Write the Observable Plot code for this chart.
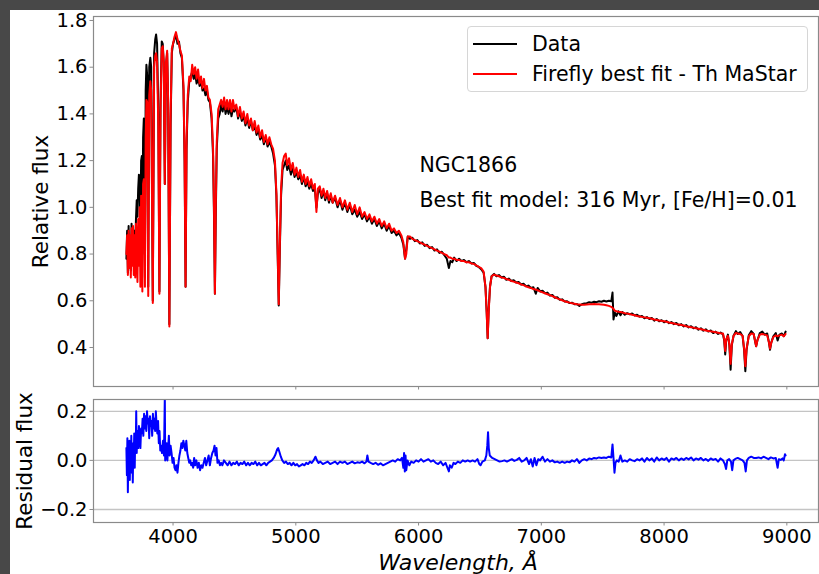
<!DOCTYPE html>
<html>
<head>
<meta charset="utf-8">
<script src="https://cdn.jsdelivr.net/npm/d3@7"></script>
<script src="https://cdn.jsdelivr.net/npm/@observablehq/plot@0.6"></script>
<style>
  html, body { margin: 0; padding: 0; }
  #page { position: relative; width: 819px; height: 574px; background: #484848; overflow: hidden; font-family: "DejaVu Sans", sans-serif; }
  #sheet { position: absolute; left: 10px; top: 10px; right: 0; bottom: 0; background: #fff; }
  #top { position: absolute; left: 0; top: 0; }
  #bot { position: absolute; left: 0; top: 390px; }
  #legend { position: absolute; left: 467px; top: 26px; width: 339px; height: 64px; border: 1px solid #d6d6d6; border-radius: 4px; background: #fff; }
  .row { position: absolute; left: 0; height: 24px; font-size: 20.5px; line-height: 24px; color: #000; white-space: nowrap; }
  .sw { position: absolute; left: 5px; top: 11px; width: 44px; height: 2px; }
  .lt { position: absolute; left: 64px; top: 0; }
</style>
</head>
<body>
<div id="page">
  <div id="sheet"></div>
  <div id="top"></div>
  <div id="bot"></div>
  <div id="legend"></div>
</div>
<script>
// ---- data ----
const legendLabels = ["Data", "Firefly best fit - Th MaStar"];
const legendColors = ["#000000", "#ff0000"];
const objectName = "NGC1866";
const fitText = "Best fit model: 316 Myr, [Fe/H]=0.01";
const xTicks = [4000, 5000, 6000, 7000, 8000, 9000];
const yTicksTop = [0.4, 0.6, 0.8, 1.0, 1.2, 1.4, 1.6, 1.8];
const yTicksRes = [-0.2, 0.0, 0.2];

// observed spectrum [wavelength (Å), relative flux]
const observed = [[3620,0.78],[3626,0.90],[3632,0.72],[3638,0.92],[3644,0.76],[3650,0.87],[3656,0.73],[3662,0.93],[3668,0.78],[3674,0.89],[3680,0.75],[3686,0.90],[3692,0.84],[3698,0.95],[3704,1.03],[3710,0.96],[3716,1.08],[3722,1.14],[3728,1.10],[3734,0.90],[3740,1.20],[3746,1.22],[3750,0.80],[3756,1.30],[3762,1.38],[3766,1.30],[3771,0.70],[3777,1.50],[3783,1.61],[3790,1.56],[3798,0.66],[3806,1.60],[3815,1.64],[3822,1.60],[3835,0.60],[3846,1.66],[3855,1.72],[3862,1.74],[3870,1.70],[3880,1.40],[3889,0.64],[3898,1.45],[3908,1.71],[3916,1.70],[3924,1.62],[3933,1.10],[3942,1.60],[3952,1.66],[3960,1.45],[3970,0.50],[3980,1.35],[3990,1.66],[4000,1.70],[4012,1.72],[4024,1.74],[4036,1.70],[4048,1.71],[4060,1.66],[4072,1.64],[4085,1.50],[4094,1.20],[4102,0.66],[4110,1.25],[4120,1.45],[4132,1.54],[4144,1.56],[4156,1.58],[4168,1.55],[4180,1.57],[4192,1.53],[4204,1.56],[4216,1.52],[4228,1.54],[4240,1.50],[4252,1.51],[4264,1.48],[4276,1.50],[4288,1.46],[4300,1.45],[4314,1.38],[4326,1.22],[4334,0.95],[4341,0.63],[4348,0.96],[4356,1.25],[4368,1.38],[4380,1.40],[4392,1.44],[4404,1.41],[4416,1.45],[4428,1.40],[4440,1.43],[4452,1.40],[4464,1.43],[4476,1.39],[4488,1.42],[4500,1.41],[4515,1.43],[4530,1.38],[4545,1.41],[4560,1.37],[4575,1.39],[4590,1.35],[4605,1.38],[4620,1.34],[4635,1.37],[4650,1.33],[4665,1.35],[4680,1.31],[4695,1.33],[4710,1.29],[4725,1.31],[4740,1.27],[4755,1.30],[4770,1.26],[4785,1.28],[4800,1.26],[4815,1.23],[4830,1.18],[4842,1.05],[4852,0.80],[4861,0.58],[4870,0.82],[4880,1.05],[4892,1.16],[4905,1.18],[4918,1.20],[4930,1.16],[4945,1.18],[4960,1.14],[4975,1.17],[4990,1.13],[5005,1.15],[5020,1.12],[5035,1.14],[5050,1.10],[5065,1.13],[5080,1.09],[5095,1.11],[5110,1.08],[5125,1.10],[5140,1.07],[5155,1.08],[5168,1.00],[5180,1.06],[5195,1.08],[5210,1.04],[5225,1.07],[5240,1.03],[5255,1.06],[5270,1.02],[5285,1.05],[5300,1.02],[5320,1.04],[5340,1.00],[5360,1.03],[5380,0.99],[5400,1.02],[5420,0.98],[5440,1.01],[5460,0.97],[5480,0.99],[5500,0.96],[5520,0.98],[5540,0.95],[5560,0.97],[5580,0.94],[5600,0.96],[5620,0.93],[5640,0.95],[5660,0.92],[5680,0.94],[5700,0.91],[5720,0.93],[5740,0.90],[5760,0.92],[5780,0.89],[5800,0.90],[5820,0.88],[5840,0.89],[5860,0.87],[5876,0.84],[5890,0.78],[5900,0.82],[5912,0.875],[5930,0.865],[5950,0.87],[5970,0.855],[5990,0.86],[6010,0.845],[6030,0.85],[6050,0.835],[6070,0.84],[6090,0.825],[6110,0.83],[6130,0.815],[6150,0.82],[6170,0.805],[6190,0.81],[6210,0.795],[6230,0.78],[6247,0.74],[6260,0.77],[6275,0.765],[6290,0.785],[6310,0.77],[6330,0.78],[6350,0.77],[6370,0.775],[6390,0.765],[6410,0.77],[6430,0.76],[6450,0.762],[6470,0.75],[6490,0.745],[6510,0.735],[6530,0.72],[6545,0.66],[6555,0.55],[6563,0.44],[6571,0.56],[6582,0.66],[6595,0.705],[6615,0.715],[6635,0.705],[6655,0.71],[6675,0.70],[6695,0.703],[6715,0.69],[6735,0.695],[6755,0.685],[6775,0.688],[6795,0.678],[6815,0.68],[6835,0.67],[6855,0.673],[6875,0.662],[6895,0.665],[6915,0.655],[6935,0.658],[6955,0.63],[6970,0.655],[6990,0.64],[7010,0.643],[7030,0.632],[7050,0.635],[7070,0.622],[7090,0.625],[7110,0.613],[7130,0.615],[7150,0.604],[7170,0.606],[7190,0.597],[7210,0.598],[7230,0.59],[7250,0.592],[7270,0.585],[7290,0.586],[7310,0.578],[7330,0.585],[7350,0.588],[7370,0.59],[7390,0.594],[7410,0.592],[7430,0.596],[7450,0.594],[7470,0.598],[7490,0.596],[7510,0.60],[7530,0.597],[7550,0.60],[7570,0.598],[7580,0.635],[7588,0.52],[7598,0.55],[7612,0.535],[7628,0.555],[7645,0.538],[7660,0.552],[7680,0.54],[7700,0.547],[7720,0.542],[7740,0.546],[7760,0.537],[7780,0.54],[7800,0.532],[7820,0.535],[7840,0.525],[7860,0.53],[7880,0.522],[7900,0.526],[7920,0.515],[7940,0.522],[7960,0.512],[7980,0.517],[8000,0.508],[8020,0.514],[8040,0.504],[8060,0.509],[8080,0.50],[8100,0.505],[8120,0.495],[8140,0.50],[8160,0.49],[8180,0.496],[8200,0.486],[8220,0.491],[8240,0.482],[8260,0.487],[8280,0.476],[8300,0.482],[8320,0.472],[8340,0.478],[8360,0.468],[8380,0.473],[8400,0.462],[8420,0.468],[8440,0.458],[8460,0.464],[8480,0.456],[8490,0.43],[8498,0.37],[8506,0.43],[8520,0.455],[8532,0.41],[8542,0.305],[8552,0.41],[8566,0.45],[8585,0.47],[8600,0.458],[8620,0.466],[8640,0.448],[8652,0.39],[8662,0.298],[8672,0.39],[8690,0.452],[8710,0.47],[8730,0.458],[8742,0.425],[8750,0.405],[8760,0.43],[8780,0.462],[8800,0.468],[8820,0.455],[8840,0.46],[8855,0.42],[8863,0.39],[8873,0.42],[8890,0.448],[8910,0.462],[8925,0.43],[8940,0.455],[8960,0.46],[8975,0.448],[8990,0.468]];

// Firefly best-fit model [wavelength (Å), relative flux]
const bestFit = [[3620,0.80],[3626,0.88],[3632,0.71],[3638,0.90],[3644,0.74],[3650,0.88],[3656,0.70],[3662,0.91],[3668,0.75],[3674,0.92],[3680,0.71],[3686,0.88],[3692,0.70],[3698,0.93],[3704,0.84],[3710,0.68],[3716,0.95],[3722,0.75],[3728,1.00],[3734,0.66],[3740,1.05],[3746,0.98],[3750,0.64],[3756,1.10],[3762,1.12],[3766,1.05],[3771,0.66],[3777,1.30],[3783,1.46],[3790,1.45],[3798,0.62],[3806,1.48],[3815,1.54],[3822,1.50],[3835,0.59],[3846,1.60],[3855,1.65],[3862,1.66],[3870,1.62],[3880,1.35],[3889,0.63],[3898,1.42],[3908,1.68],[3916,1.69],[3924,1.62],[3933,1.10],[3942,1.62],[3952,1.67],[3960,1.46],[3970,0.49],[3980,1.38],[3990,1.68],[4000,1.70],[4012,1.73],[4024,1.75],[4036,1.72],[4048,1.70],[4060,1.67],[4072,1.65],[4085,1.52],[4094,1.22],[4102,0.66],[4110,1.28],[4120,1.48],[4132,1.56],[4144,1.54],[4156,1.61],[4168,1.57],[4180,1.60],[4192,1.55],[4204,1.59],[4216,1.53],[4228,1.56],[4240,1.51],[4252,1.55],[4264,1.50],[4276,1.52],[4288,1.47],[4300,1.46],[4314,1.40],[4326,1.25],[4334,0.98],[4341,0.63],[4348,1.00],[4356,1.28],[4368,1.42],[4380,1.44],[4392,1.46],[4404,1.43],[4416,1.47],[4428,1.42],[4440,1.46],[4452,1.42],[4464,1.46],[4476,1.41],[4488,1.46],[4500,1.42],[4515,1.44],[4530,1.39],[4545,1.43],[4560,1.38],[4575,1.41],[4590,1.36],[4605,1.40],[4620,1.35],[4635,1.38],[4650,1.33],[4665,1.37],[4680,1.32],[4695,1.35],[4710,1.30],[4725,1.33],[4740,1.28],[4755,1.31],[4770,1.27],[4785,1.30],[4800,1.27],[4815,1.25],[4830,1.20],[4842,1.06],[4852,0.82],[4861,0.585],[4870,0.84],[4880,1.08],[4892,1.19],[4905,1.22],[4918,1.23],[4930,1.18],[4945,1.21],[4960,1.16],[4975,1.19],[4990,1.14],[5005,1.17],[5020,1.13],[5035,1.16],[5050,1.11],[5065,1.14],[5080,1.10],[5095,1.13],[5110,1.09],[5125,1.12],[5140,1.08],[5155,1.10],[5168,0.98],[5180,1.08],[5195,1.09],[5210,1.05],[5225,1.08],[5240,1.04],[5255,1.07],[5270,1.03],[5285,1.06],[5300,1.02],[5320,1.05],[5340,1.01],[5360,1.04],[5380,1.00],[5400,1.03],[5420,0.99],[5440,1.02],[5460,0.98],[5480,1.01],[5500,0.97],[5520,1.00],[5540,0.96],[5560,0.98],[5580,0.95],[5600,0.97],[5620,0.94],[5640,0.96],[5660,0.93],[5680,0.95],[5700,0.92],[5720,0.94],[5740,0.91],[5760,0.93],[5780,0.90],[5800,0.91],[5820,0.89],[5840,0.90],[5860,0.88],[5876,0.85],[5890,0.78],[5900,0.80],[5912,0.875],[5930,0.875],[5950,0.865],[5970,0.86],[5990,0.855],[6010,0.85],[6030,0.845],[6050,0.84],[6070,0.835],[6090,0.83],[6110,0.825],[6130,0.82],[6150,0.815],[6170,0.81],[6190,0.805],[6210,0.80],[6230,0.795],[6247,0.785],[6260,0.785],[6275,0.78],[6290,0.78],[6310,0.775],[6330,0.775],[6350,0.77],[6370,0.77],[6390,0.765],[6410,0.765],[6430,0.76],[6450,0.758],[6470,0.752],[6490,0.745],[6510,0.74],[6530,0.725],[6545,0.66],[6555,0.55],[6563,0.44],[6571,0.55],[6582,0.66],[6595,0.705],[6615,0.712],[6635,0.708],[6655,0.705],[6675,0.70],[6695,0.698],[6715,0.693],[6735,0.69],[6755,0.685],[6775,0.682],[6795,0.678],[6815,0.675],[6835,0.67],[6855,0.667],[6875,0.662],[6895,0.658],[6915,0.655],[6935,0.65],[6955,0.648],[6970,0.645],[6990,0.64],[7010,0.636],[7030,0.632],[7050,0.628],[7070,0.624],[7090,0.62],[7110,0.615],[7130,0.61],[7150,0.606],[7170,0.602],[7190,0.598],[7210,0.595],[7230,0.592],[7250,0.589],[7270,0.587],[7290,0.585],[7310,0.584],[7330,0.583],[7350,0.583],[7370,0.584],[7390,0.585],[7410,0.585],[7430,0.586],[7450,0.585],[7470,0.585],[7490,0.584],[7510,0.583],[7530,0.581],[7550,0.578],[7570,0.574],[7580,0.57],[7588,0.565],[7598,0.558],[7612,0.555],[7628,0.553],[7645,0.552],[7660,0.55],[7680,0.547],[7700,0.545],[7720,0.543],[7740,0.54],[7760,0.538],[7780,0.535],[7800,0.533],[7820,0.531],[7840,0.529],[7860,0.527],[7880,0.525],[7900,0.523],[7920,0.52],[7940,0.518],[7960,0.516],[7980,0.514],[8000,0.512],[8020,0.51],[8040,0.507],[8060,0.505],[8080,0.503],[8100,0.50],[8120,0.498],[8140,0.496],[8160,0.494],[8180,0.491],[8200,0.489],[8220,0.487],[8240,0.485],[8260,0.482],[8280,0.48],[8300,0.478],[8320,0.476],[8340,0.473],[8360,0.471],[8380,0.469],[8400,0.467],[8420,0.465],[8440,0.463],[8460,0.461],[8480,0.46],[8490,0.435],[8498,0.385],[8506,0.435],[8520,0.45],[8532,0.415],[8542,0.33],[8552,0.415],[8566,0.45],[8585,0.462],[8600,0.46],[8620,0.458],[8640,0.45],[8652,0.395],[8662,0.32],[8672,0.395],[8690,0.448],[8710,0.46],[8730,0.458],[8742,0.425],[8750,0.405],[8760,0.43],[8780,0.455],[8800,0.458],[8820,0.455],[8840,0.452],[8855,0.42],[8863,0.395],[8873,0.42],[8890,0.445],[8910,0.452],[8925,0.448],[8940,0.452],[8960,0.455],[8975,0.448],[8990,0.458]];

// residual flux [wavelength (Å), residual]
const residuals = [[3620,0.05],[3624,-0.06],[3628,0.09],[3632,-0.13],[3636,0.04],[3640,-0.04],[3644,0.08],[3648,-0.08],[3652,0.06],[3656,-0.02],[3660,0.10],[3664,-0.05],[3668,0.07],[3672,-0.09],[3676,0.05],[3680,0.02],[3684,0.11],[3688,-0.03],[3692,0.10],[3696,0.04],[3700,0.20],[3704,0.03],[3710,0.12],[3716,0.05],[3722,0.14],[3728,0.09],[3734,0.05],[3740,0.13],[3746,0.11],[3752,0.17],[3758,0.10],[3764,0.19],[3770,0.13],[3776,0.18],[3782,0.12],[3788,0.20],[3794,0.15],[3800,0.17],[3806,0.09],[3812,0.18],[3818,0.14],[3824,0.16],[3830,0.10],[3836,0.19],[3842,0.13],[3848,0.17],[3854,0.12],[3860,0.20],[3866,0.14],[3872,0.11],[3878,0.16],[3884,0.07],[3890,0.12],[3896,0.04],[3902,0.06],[3910,0.03],[3918,0.08],[3926,0.02],[3933,0.26],[3936,0.0],[3942,0.02],[3948,0.07],[3954,0.00],[3960,0.05],[3966,0.10],[3972,0.02],[3980,0.06],[3988,0.03],[3996,-0.01],[4004,0.01],[4012,-0.03],[4020,-0.04],[4028,-0.02],[4036,-0.05],[4044,-0.01],[4052,0.02],[4060,0.04],[4068,0.07],[4076,0.05],[4084,0.08],[4092,0.06],[4100,0.04],[4108,0.08],[4116,0.03],[4124,0.01],[4132,-0.01],[4140,0.00],[4148,-0.02],[4156,-0.01],[4164,-0.03],[4172,0.01],[4180,-0.02],[4190,0.00],[4200,-0.03],[4210,-0.01],[4220,-0.04],[4230,-0.02],[4240,-0.03],[4250,-0.01],[4260,0.01],[4270,-0.02],[4280,0.00],[4290,0.02],[4300,-0.02],[4310,0.01],[4320,0.03],[4330,0.04],[4338,0.06],[4346,0.02],[4354,0.05],[4362,-0.01],[4372,0.00],[4382,-0.02],[4392,-0.01],[4402,-0.02],[4415,0.00],[4430,-0.01],[4445,-0.02],[4460,-0.005],[4475,-0.02],[4490,-0.01],[4505,-0.015],[4520,-0.005],[4535,-0.02],[4550,-0.01],[4565,-0.015],[4580,-0.005],[4595,-0.02],[4610,-0.01],[4625,-0.02],[4640,-0.01],[4655,-0.015],[4670,-0.005],[4685,-0.02],[4700,-0.01],[4715,-0.02],[4730,-0.015],[4745,-0.01],[4760,-0.02],[4775,-0.01],[4790,-0.005],[4805,0.00],[4820,0.01],[4835,0.025],[4848,0.045],[4856,0.05],[4866,0.035],[4878,0.015],[4890,0.0],[4905,-0.01],[4920,-0.005],[4935,-0.015],[4950,-0.01],[4965,-0.02],[4980,-0.01],[4995,-0.02],[5010,-0.015],[5025,-0.025],[5040,-0.02],[5055,-0.015],[5070,-0.02],[5085,-0.01],[5100,-0.015],[5115,-0.005],[5130,-0.01],[5145,0.00],[5160,0.015],[5172,0.0],[5185,-0.01],[5200,-0.005],[5220,-0.015],[5240,-0.01],[5260,-0.005],[5280,-0.015],[5300,-0.01],[5320,-0.005],[5340,-0.015],[5360,-0.005],[5380,-0.01],[5400,-0.005],[5420,-0.015],[5440,-0.01],[5460,-0.005],[5480,-0.012],[5500,-0.008],[5520,-0.01],[5540,-0.005],[5560,-0.012],[5575,-0.005],[5583,0.02],[5592,-0.005],[5610,-0.01],[5630,-0.015],[5650,-0.01],[5670,-0.018],[5690,-0.012],[5710,-0.02],[5730,-0.015],[5750,-0.01],[5770,-0.005],[5790,0.0],[5810,-0.005],[5830,0.005],[5850,0.0],[5865,0.01],[5876,-0.03],[5882,0.03],[5888,-0.045],[5894,0.02],[5900,-0.04],[5910,0.0],[5925,-0.02],[5940,-0.005],[5960,-0.01],[5980,0.0],[6000,-0.005],[6020,0.005],[6040,-0.005],[6060,0.0],[6080,0.005],[6100,-0.005],[6120,0.0],[6140,-0.01],[6160,-0.015],[6180,-0.005],[6200,-0.02],[6220,-0.01],[6235,-0.03],[6247,-0.045],[6255,-0.02],[6270,-0.03],[6285,-0.01],[6300,-0.015],[6320,-0.005],[6340,-0.01],[6360,0.0],[6380,-0.005],[6400,0.0],[6420,-0.005],[6440,0.0],[6460,-0.005],[6480,0.005],[6495,-0.015],[6505,-0.02],[6520,-0.005],[6540,0.0],[6552,0.02],[6560,0.06],[6566,0.115],[6572,0.05],[6580,0.02],[6600,0.01],[6620,0.005],[6640,0.0],[6660,-0.005],[6680,-0.003],[6700,0.0],[6720,-0.005],[6740,0.0],[6760,0.005],[6780,-0.002],[6800,0.002],[6820,0.01],[6840,-0.005],[6860,0.0],[6880,0.01],[6900,-0.015],[6915,0.005],[6930,-0.025],[6945,0.01],[6960,-0.02],[6975,0.005],[6990,0.0],[7010,0.015],[7030,-0.005],[7050,0.005],[7070,-0.005],[7090,0.0],[7110,-0.008],[7130,-0.005],[7150,-0.01],[7170,-0.005],[7190,-0.01],[7210,-0.005],[7230,-0.008],[7250,0.0],[7270,-0.005],[7290,0.005],[7310,-0.01],[7330,0.0],[7350,0.005],[7370,0.0],[7390,0.008],[7410,0.005],[7430,0.01],[7450,0.008],[7470,0.012],[7490,0.01],[7510,0.012],[7530,0.01],[7550,0.015],[7570,0.012],[7580,0.065],[7588,0.01],[7596,-0.05],[7604,-0.01],[7615,0.0],[7630,-0.005],[7645,0.02],[7660,-0.005],[7680,0.0],[7700,-0.005],[7720,0.005],[7740,0.0],[7760,-0.003],[7780,0.005],[7800,0.0],[7820,0.008],[7840,-0.005],[7860,0.01],[7880,0.0],[7900,0.008],[7920,-0.005],[7940,0.012],[7960,0.0],[7980,0.008],[8000,0.002],[8020,0.01],[8040,-0.005],[8060,0.008],[8080,0.003],[8100,0.01],[8120,0.0],[8140,0.008],[8160,0.002],[8180,0.01],[8200,0.004],[8220,0.012],[8240,0.0],[8260,0.008],[8280,0.003],[8300,0.01],[8320,0.0],[8340,0.006],[8360,-0.002],[8380,0.008],[8400,0.002],[8420,0.006],[8440,-0.005],[8460,0.008],[8480,0.0],[8495,-0.015],[8505,-0.035],[8515,0.0],[8530,0.005],[8545,-0.005],[8555,-0.04],[8565,0.0],[8580,0.006],[8600,0.01],[8620,0.005],[8640,0.0],[8655,-0.01],[8665,-0.045],[8675,0.0],[8690,0.01],[8710,0.015],[8730,0.01],[8750,0.01],[8770,0.012],[8790,0.008],[8810,0.015],[8830,0.01],[8850,0.005],[8870,0.012],[8890,0.008],[8910,0.01],[8925,-0.03],[8935,0.005],[8950,0.002],[8965,0.008],[8975,0.0],[8985,0.025],[8990,0.02]];

// ---- drawing ----
const xDomain = [3352, 9258];
const FONT = "DejaVu Sans";
const frameColor = "#8a8a8a";
const fmt1 = d => (d < 0 ? "\u2212" : "") + Math.abs(d).toFixed(1);

const topPlot = Plot.plot({
  width: 819, height: 390,
  marginLeft: 93, marginRight: 1, marginTop: 16, marginBottom: 4,
  style: {background: "transparent", fontFamily: FONT, fontSize: "19.5px", color: "#000", overflow: "visible"},
  x: {domain: xDomain},
  y: {domain: [0.233, 1.817]},
  marks: [
    Plot.line(observed, {x: d => d[0], y: d => d[1], stroke: legendColors[0], strokeWidth: 2}),
    Plot.line(bestFit, {x: d => d[0], y: d => d[1], stroke: legendColors[1], strokeWidth: 2}),
    Plot.frame({stroke: frameColor, strokeWidth: 1.2}),
    Plot.axisX({ticks: xTicks, tickSize: 3.5, stroke: frameColor, tickFormat: () => "", label: null}),
    Plot.axisY({ticks: yTicksTop, tickSize: 3.5, tickPadding: 2.5, stroke: frameColor, fill: "#000", fontSize: 19.5, tickFormat: fmt1, label: null}),
    Plot.text(["Relative flux"], {text: d => d, frameAnchor: "left", dx: -52, rotate: -90, textAnchor: "middle", lineAnchor: "middle", fontSize: 21.5, fill: "#000"}),
    Plot.text([objectName], {text: d => d, frameAnchor: "top-left", dx: 326, dy: 149, textAnchor: "start", lineAnchor: "middle", fontSize: 20.5, fill: "#000"}),
    Plot.text([fitText], {text: d => d, frameAnchor: "top-left", dx: 326, dy: 184, textAnchor: "start", lineAnchor: "middle", fontSize: 20.5, fill: "#000"})
  ]
});
document.getElementById("top").appendChild(topPlot);

const botPlot = Plot.plot({
  width: 819, height: 184,
  marginLeft: 93, marginRight: 1, marginTop: 9, marginBottom: 52,
  style: {background: "transparent", fontFamily: FONT, fontSize: "19.5px", color: "#000", overflow: "visible"},
  x: {domain: xDomain},
  y: {domain: [-0.253, 0.248]},
  marks: [
    Plot.ruleY(yTicksRes, {stroke: "#c4c4c4", strokeWidth: 1.3}),
    Plot.line(residuals, {x: d => d[0], y: d => d[1], stroke: "#0000ff", strokeWidth: 2, clip: true}),
    Plot.frame({stroke: frameColor, strokeWidth: 1.2}),
    Plot.axisX({ticks: xTicks, tickSize: 3.5, tickPadding: 3, stroke: frameColor, fill: "#000", fontSize: 19.5, tickFormat: d => String(d), label: null}),
    Plot.axisY({ticks: yTicksRes, tickSize: 3.5, tickPadding: 2.5, stroke: frameColor, fill: "#000", fontSize: 19.5, tickFormat: fmt1, label: null}),
    Plot.text(["Residual flux"], {text: d => d, frameAnchor: "left", dx: -68, rotate: -90, textAnchor: "middle", lineAnchor: "middle", fontSize: 21.5, fill: "#000"}),
    Plot.text(["Wavelength, \u00c5"], {text: d => d, frameAnchor: "bottom", dx: 2, dy: 40, textAnchor: "middle", lineAnchor: "middle", fontSize: 22, fontStyle: "italic", fill: "#000"})
  ]
});
document.getElementById("bot").appendChild(botPlot);

// legend
const legend = document.getElementById("legend");
legendLabels.forEach((label, i) => {
  const row = document.createElement("div");
  row.className = "row";
  row.style.top = (5 + i * 30) + "px";
  row.style.width = "100%";
  const sw = document.createElement("span");
  sw.className = "sw";
  sw.style.background = legendColors[i];
  const t = document.createElement("span");
  t.className = "lt";
  t.textContent = label;
  row.appendChild(sw);
  row.appendChild(t);
  legend.appendChild(row);
});
</script>
</body>
</html>
